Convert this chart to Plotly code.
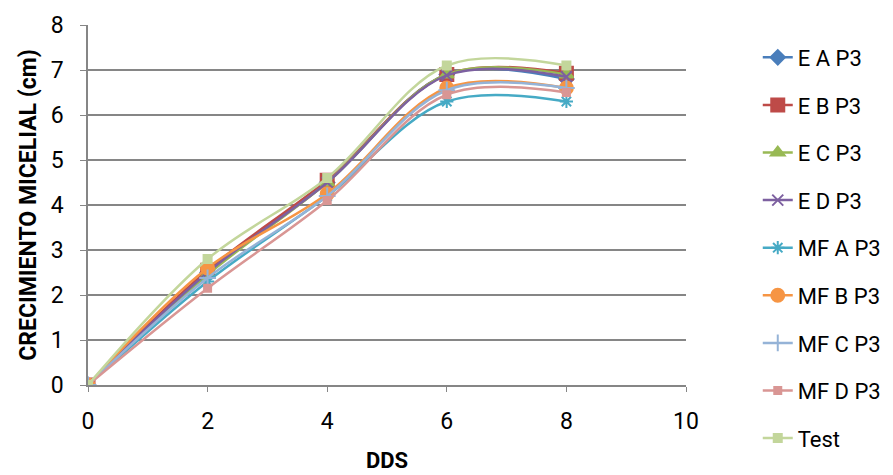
import plotly.graph_objects as go

dds = [0, 2, 4, 6, 8]
series_names = ["E A P3", "E B P3", "E C P3", "E D P3", "MF A P3", "MF B P3", "MF C P3", "MF D P3", "Test"]
e_a = [0, 2.5, 4.5, 6.9, 6.8]
e_b = [0, 2.55, 4.55, 6.9, 6.93]
e_c = [0, 2.45, 4.5, 6.9, 6.9]
e_d = [0, 2.5, 4.5, 6.88, 6.85]
mf_a = [0, 2.3, 4.2, 6.3, 6.3]
mf_b = [0, 2.6, 4.25, 6.6, 6.6]
mf_c = [0, 2.38, 4.2, 6.55, 6.6]
mf_d = [0, 2.15, 4.1, 6.45, 6.5]
test = [0, 2.8, 4.6, 7.1, 7.1]
values = [e_a, e_b, e_c, e_d, mf_a, mf_b, mf_c, mf_d, test]

colors = ["#4A7EBB", "#BE4B48", "#98B954", "#7D60A0", "#46AAC5", "#F69544", "#95B3D7", "#D99694", "#C3D69B"]
symbols = ["diamond", "square", "triangle-up", "x-thin-open", "asterisk-open", "circle", "cross-thin-open", "square", "square"]
sizes = [11, 13, 12, 11, 11, 13, 12, 7, 8]

fig = go.Figure()
for i, (name, vals) in enumerate(zip(series_names, values)):
    fig.add_trace(go.Scatter(
        x=dds, y=vals, name=name, mode="lines+markers",
        line=dict(color=colors[i], width=2.5, shape="spline", smoothing=1.0),
        marker=dict(symbol=symbols[i], size=sizes[i], color=colors[i],
                    line=dict(color=colors[i], width=2)),
        legendgroup=name,
    ))

font_family = "Roboto, Liberation Sans, sans-serif"
fig.update_layout(
    width=893, height=475,
    margin=dict(l=88, r=207, t=25, b=90, autoexpand=False),
    paper_bgcolor="white", plot_bgcolor="white",
    font=dict(family=font_family, size=23, color="black"),
    showlegend=True,
    legend=dict(x=1.12, y=0.968, xanchor="left", yanchor="top",
                font=dict(size=22, family=font_family),
                traceorder="grouped", tracegroupgap=16, maxheight=460,
                bgcolor="rgba(0,0,0,0)"),
    xaxis=dict(range=[0, 10], tickvals=[0, 2, 4, 6, 8, 10],
               showgrid=False, zeroline=False, automargin=False,
               showline=True, linecolor="#868686", linewidth=1.5,
               ticks="outside", ticklen=5, tickcolor="#868686",
               ticklabelstandoff=10, tickfont=dict(size=23),
               title=dict(text="<b>DDS</b>", font=dict(size=22, family=font_family), standoff=18)),
    yaxis=dict(range=[0, 8], tickvals=list(range(9)),
               showgrid=True, gridcolor="#868686", gridwidth=1.5,
               zeroline=False, showline=True, linecolor="#868686", linewidth=1.5,
               ticks="outside", ticklen=6, tickcolor="#868686", automargin=False,
               ticklabelstandoff=12, tickfont=dict(size=23),
               title=dict(text="<b>CRECIMIENTO MICELIAL (cm)</b>", font=dict(size=23, family=font_family), standoff=8)),
)
fig.write_html("out.html")
